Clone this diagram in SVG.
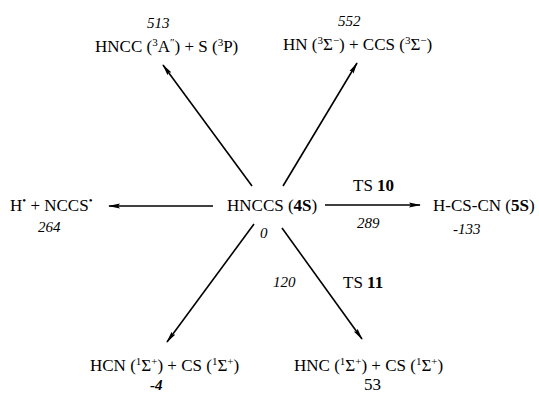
<svg xmlns="http://www.w3.org/2000/svg" width="539" height="394" viewBox="0 0 539 394">
<style>
text{font-family:"Liberation Serif","DejaVu Serif",serif;font-size:17px;fill:#000}
.i{font-style:italic;font-size:15px}
.b{font-weight:bold}
.s{font-size:11px}
.c line{stroke:#000;stroke-width:1.6;marker-end:url(#ah)}
</style>
<defs>
<marker id="ah" viewBox="0 0 12 6" refX="11" refY="3" markerWidth="12" markerHeight="6" markerUnits="userSpaceOnUse" orient="auto">
<path d="M0,0.6 L12,3 L0,5.4 L2,3 Z" fill="#000"/>
</marker>
</defs>
<rect width="539" height="394" fill="#fff"/>
<g class="c" id="connectors">
<line x1="252" y1="186" x2="163" y2="65"/>
<line x1="283" y1="186" x2="357" y2="63"/>
<line x1="213" y1="206" x2="109" y2="206"/>
<line x1="325" y1="205" x2="420" y2="205"/>
<line x1="254" y1="224" x2="167" y2="342"/>
<line x1="282" y1="228" x2="362" y2="339"/>
</g>
<g id="center">
<text x="227" y="211">HNCCS (<tspan class="b">4S</tspan>)</text>
<text class="i" x="260" y="238">0</text>
</g>
<g id="n513">
<text class="i" x="147" y="28">513</text>
<text x="95" y="52">HNCC (<tspan class="s" dy="-6">3</tspan><tspan dy="6">A</tspan><tspan class="s" dy="-6">″</tspan><tspan dy="6">) + S (</tspan><tspan class="s" dy="-6">3</tspan><tspan dy="6">P)</tspan></text>
</g>
<g id="n552">
<text class="i" x="338" y="26">552</text>
<text x="283" y="50">HN (<tspan class="s" dy="-6">3</tspan><tspan dy="6">Σ</tspan><tspan class="s" dy="-6">−</tspan><tspan dy="6">) + CCS (</tspan><tspan class="s" dy="-6">3</tspan><tspan dy="6">Σ</tspan><tspan class="s" dy="-6">−</tspan><tspan dy="6">)</tspan></text>
</g>
<g id="nH">
<text x="10" y="211">H<tspan class="s" dy="-7">•</tspan><tspan dy="7"> + NCCS</tspan><tspan class="s" dy="-7">•</tspan></text>
<text class="i" x="38" y="232">264</text>
</g>
<g id="n5S">
<text x="433" y="211">H-CS-CN (<tspan class="b">5S</tspan>)</text>
<text class="i" x="453" y="234">-133</text>
</g>
<g id="ts10">
<text x="353" y="191">TS <tspan class="b">10</tspan></text>
<text class="i" x="357" y="228">289</text>
</g>
<g id="ts11">
<text class="i" x="273" y="287">120</text>
<text x="343" y="288">TS <tspan class="b">11</tspan></text>
</g>
<g id="nHCN">
<text x="90" y="371">HCN (<tspan class="s" dy="-6">1</tspan><tspan dy="6">Σ</tspan><tspan class="s" dy="-6">+</tspan><tspan dy="6">) + CS (</tspan><tspan class="s" dy="-6">1</tspan><tspan dy="6">Σ</tspan><tspan class="s" dy="-6">+</tspan><tspan dy="6">)</tspan></text>
<text class="i b" x="150" y="390">-4</text>
</g>
<g id="nHNC">
<text x="294" y="371">HNC (<tspan class="s" dy="-6">1</tspan><tspan dy="6">Σ</tspan><tspan class="s" dy="-6">+</tspan><tspan dy="6">) + CS (</tspan><tspan class="s" dy="-6">1</tspan><tspan dy="6">Σ</tspan><tspan class="s" dy="-6">+</tspan><tspan dy="6">)</tspan></text>
<text x="364" y="390" font-size="15">53</text>
</g>
</svg>
